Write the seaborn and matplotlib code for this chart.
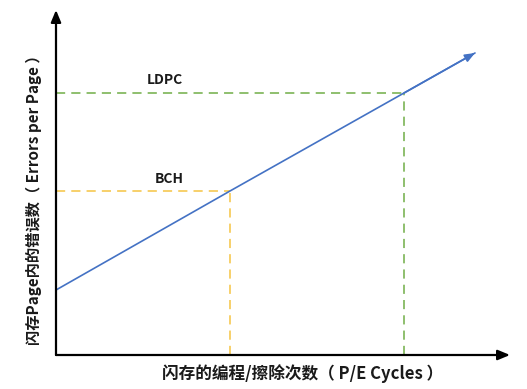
import pandas as pd
import seaborn as sns
import matplotlib.pyplot as plt

# error growth vs P/E cycles (arbitrary units)
pe_cycles = [0, 174, 348, 419]
errors = [65, 164, 262, 302]

# ECC correction limits: name, P/E cycle where reached, errors per page
ecc_names = ["BCH", "LDPC"]
ecc_cycles = [174, 348]
ecc_errors = [164, 262]
ecc_colors = ["#F5C342", "#70AD47"]

x_label = "闪存的编程/擦除次数（ P/E Cycles ）"
y_label = "闪存Page内的错误数（ Errors per Page ）"

sns.set_theme(style="white")
plt.rcParams['font.family'] = ['Noto Sans CJK SC', 'DejaVu Sans']

fig = plt.figure(figsize=(5.27, 3.89), dpi=100)
W, H = 527, 389
ax = fig.add_axes([56 / W, 34 / H, (510 - 56) / W, (355 - 10) / H])
ax.set_xlim(0, 454)
ax.set_ylim(0, 345)
for s in ax.spines.values():
    s.set_visible(False)
ax.set_xticks([])
ax.set_yticks([])

# axes with arrow heads
ax.annotate("", xy=(1, 0), xytext=(0, 0), xycoords="axes fraction",
            arrowprops=dict(arrowstyle="-|>,head_length=0.6,head_width=0.25",
                            color="black", lw=1.6, shrinkA=0, shrinkB=0))
ax.annotate("", xy=(0, 1), xytext=(0, 0), xycoords="axes fraction",
            arrowprops=dict(arrowstyle="-|>,head_length=0.6,head_width=0.25",
                            color="black", lw=1.6, shrinkA=0, shrinkB=0))

# ECC guide lines
for name, cx, cy, col in zip(ecc_names, ecc_cycles, ecc_errors, ecc_colors):
    ax.plot([0, cx], [cy, cy], color=col, lw=1.1, dashes=(6, 4))
    ax.plot([cx, cx], [0, cy], color=col, lw=1.1, dashes=(6, 4))

df = pd.DataFrame({"cycles": pe_cycles, "errors": errors})
sns.lineplot(data=df, x="cycles", y="errors", color="#4472C4", lw=1.2, ax=ax)
ax.annotate("", xy=(pe_cycles[-1], errors[-1]), xytext=(pe_cycles[-2], errors[-2]),
            arrowprops=dict(arrowstyle="-|>,head_length=0.5,head_width=0.2",
                            color="#4472C4", lw=1.2, shrinkA=0, shrinkB=0))
ax.set_xlabel("")
ax.set_ylabel("")

# labels above the guide lines
ax.text(109, ecc_errors[1] + 13, ecc_names[1], ha="center", va="center",
        fontsize=10, fontweight="bold", color="#1a1a1a")
ax.text(113, ecc_errors[0] + 12, ecc_names[0], ha="center", va="center",
        fontsize=10, fontweight="bold", color="#1a1a1a")

fig.text(303 / W, 1 - 374 / H, x_label, ha="center", va="center",
         fontsize=12, fontweight="bold", color="#1a1a1a")
fig.text(34 / W, 1 - 196 / H, y_label, ha="center", va="center", rotation=90,
         fontsize=11, fontweight="bold", color="#1a1a1a")

fig.savefig("out.png", dpi=100)
